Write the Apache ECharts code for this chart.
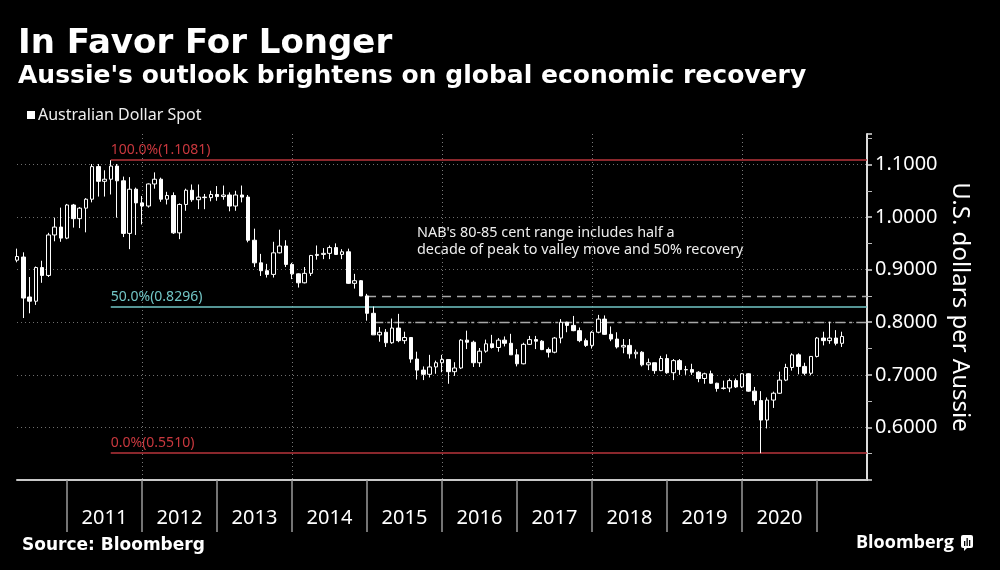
<!DOCTYPE html>
<html>
<head>
<meta charset="utf-8">
<script src="https://cdn.jsdelivr.net/npm/echarts@6/dist/echarts.min.js"></script>
<style>
html,body{margin:0;padding:0;background:#000;}
#chart{width:1000px;height:570px;}
</style>
</head>
<body>
<div id="chart"></div>
<script>
// ---- Data: monthly AUD/USD candles, each [open, close, low, high] ----
var firstYear = 2010, firstMonth = 4;   // April 2010
var lastYear = 2021, lastMonth = 8;     // axis runs to August 2021

var ohlc2010 = [ // Apr..Dec
  [0.918,0.925,0.914,0.940],[0.924,0.846,0.808,0.933],[0.848,0.840,0.817,0.886],
  [0.840,0.904,0.833,0.906],[0.904,0.889,0.875,0.917],[0.889,0.966,0.886,0.970],
  [0.966,0.981,0.954,0.999],[0.981,0.960,0.953,1.018],[0.960,1.023,0.958,1.025]
];
var ohlc2011 = [
  [1.023,0.997,0.980,1.025],[0.997,1.017,0.979,1.019],[1.017,1.034,0.971,1.036],
  [1.034,1.096,1.028,1.101],[1.096,1.068,1.039,1.101],[1.068,1.072,1.039,1.089],
  [1.072,1.097,1.043,1.1081],[1.097,1.069,0.999,1.101],[1.069,0.969,0.962,1.077],
  [0.969,1.053,0.939,1.076],[1.053,1.027,0.966,1.056],[1.027,1.021,0.986,1.040]
];
var ohlc2012 = [
  [1.021,1.063,1.018,1.064],[1.063,1.072,1.054,1.085],[1.072,1.034,1.029,1.075],
  [1.034,1.041,1.024,1.048],[1.041,0.970,0.968,1.047],[0.970,1.024,0.958,1.026],
  [1.024,1.051,1.012,1.054],[1.051,1.033,1.029,1.062],[1.033,1.038,1.015,1.062],
  [1.038,1.037,1.015,1.044],[1.037,1.043,1.030,1.050],[1.043,1.039,1.031,1.059]
];
var ohlc2013 = [
  [1.039,1.042,1.033,1.060],[1.042,1.021,1.011,1.047],[1.021,1.042,1.012,1.050],
  [1.042,1.038,1.028,1.060],[1.038,0.956,0.952,1.042],[0.956,0.913,0.905,0.978],
  [0.913,0.898,0.888,0.930],[0.898,0.891,0.885,0.911],[0.891,0.932,0.885,0.953],
  [0.932,0.945,0.931,0.976],[0.945,0.910,0.905,0.956],[0.910,0.892,0.882,0.913]
];
var ohlc2014 = [
  [0.892,0.875,0.866,0.893],[0.875,0.893,0.874,0.905],[0.893,0.927,0.888,0.928],
  [0.927,0.929,0.919,0.946],[0.929,0.931,0.920,0.941],[0.931,0.942,0.920,0.946],
  [0.942,0.929,0.928,0.950],[0.929,0.934,0.920,0.939],[0.934,0.874,0.873,0.940],
  [0.874,0.879,0.864,0.892],[0.879,0.850,0.850,0.880],[0.850,0.817,0.803,0.854]
];
var ohlc2015 = [
  [0.817,0.776,0.776,0.830],[0.776,0.781,0.763,0.791],[0.781,0.761,0.753,0.787],
  [0.761,0.789,0.759,0.807],[0.789,0.765,0.762,0.816],[0.765,0.771,0.759,0.782],
  [0.771,0.730,0.723,0.771],[0.730,0.709,0.691,0.744],[0.709,0.701,0.690,0.716],
  [0.701,0.715,0.695,0.738],[0.715,0.723,0.702,0.727],[0.723,0.729,0.705,0.738]
];
var ohlc2016 = [
  [0.729,0.706,0.683,0.729],[0.706,0.713,0.698,0.724],[0.713,0.766,0.711,0.768],
  [0.766,0.762,0.749,0.784],[0.762,0.723,0.715,0.765],[0.723,0.745,0.715,0.751],
  [0.745,0.759,0.742,0.767],[0.759,0.752,0.750,0.776],[0.752,0.766,0.744,0.770],
  [0.766,0.760,0.754,0.773],[0.760,0.738,0.738,0.778],[0.738,0.721,0.716,0.749]
];
var ohlc2017 = [
  [0.721,0.758,0.720,0.761],[0.758,0.767,0.757,0.774],[0.767,0.764,0.749,0.774],
  [0.764,0.748,0.747,0.766],[0.748,0.743,0.733,0.752],[0.743,0.770,0.741,0.772],
  [0.770,0.800,0.760,0.806],[0.800,0.794,0.781,0.801],[0.794,0.784,0.783,0.812],
  [0.784,0.765,0.762,0.790],[0.765,0.756,0.753,0.769],[0.756,0.781,0.750,0.783]
];
var ohlc2018 = [
  [0.781,0.806,0.779,0.814],[0.806,0.777,0.776,0.813],[0.777,0.768,0.764,0.792],
  [0.768,0.753,0.750,0.781],[0.753,0.756,0.741,0.768],[0.756,0.740,0.731,0.768],
  [0.740,0.743,0.731,0.748],[0.743,0.719,0.716,0.745],[0.719,0.723,0.709,0.731],
  [0.723,0.708,0.702,0.723],[0.708,0.731,0.707,0.736],[0.731,0.704,0.702,0.739]
];
var ohlc2019 = [
  [0.704,0.727,0.690,0.730],[0.727,0.710,0.700,0.730],[0.710,0.7095,0.700,0.717],
  [0.710,0.705,0.700,0.721],[0.705,0.693,0.686,0.707],[0.693,0.702,0.683,0.704],
  [0.702,0.684,0.683,0.708],[0.684,0.674,0.668,0.685],[0.674,0.675,0.672,0.689],
  [0.675,0.689,0.667,0.693],[0.689,0.677,0.675,0.693],[0.677,0.702,0.675,0.703]
];
var ohlc2020 = [
  [0.702,0.669,0.668,0.703],[0.669,0.651,0.643,0.677],[0.651,0.614,0.551,0.669],
  [0.614,0.652,0.598,0.657],[0.652,0.665,0.637,0.668],[0.665,0.690,0.664,0.706],
  [0.690,0.714,0.688,0.721],[0.714,0.738,0.708,0.741],[0.738,0.716,0.701,0.741],
  [0.716,0.703,0.699,0.723],[0.703,0.735,0.699,0.735],[0.735,0.770,0.733,0.772]
];
var ohlc2021 = [ // Jan..Apr
  [0.770,0.765,0.756,0.782],[0.765,0.770,0.759,0.801],[0.770,0.760,0.756,0.785],
  [0.760,0.773,0.753,0.782]
];

var yearLabels = ['2011','2012','2013','2014','2015','2016','2017','2018','2019','2020'];
var yTicks = [0.6, 0.7, 0.8, 0.9, 1.0, 1.1];
var fibLevels = [
  {name:'100.0%', value:1.1081, from:'2011-07'},
  {name:'50.0%',  value:0.8296, from:'2011-07'},
  {name:'0.0%',   value:0.5510, from:'2011-07'}
];
var nabRange = [
  {value:0.85, from:'2014-12'},
  {value:0.80, from:'2015-01'}
];
var seriesName = 'Australian Dollar Spot';

// ---- Build categories & series ----
var months = [];
(function(){
  var y = firstYear, m = firstMonth;
  while (y < lastYear || (y === lastYear && m <= lastMonth)) {
    months.push(y + '-' + (m < 10 ? '0' + m : '' + m));
    m++; if (m > 12) { m = 1; y++; }
  }
})();
var allOhlc = [].concat(ohlc2010, ohlc2011, ohlc2012, ohlc2013, ohlc2014, ohlc2015,
  ohlc2016, ohlc2017, ohlc2018, ohlc2019, ohlc2020, ohlc2021);

var RED = '#b8343b', RED_TXT = '#c9383e', TEAL = '#72c6c6';

function monthOf(cat){ return cat.slice(5); }
function yearOf(cat){ return cat.slice(0,4); }

var chart = echarts.init(document.getElementById('chart'), null, {renderer:'canvas'});

var fibData = fibLevels.map(function(f){
  var col = f.name === '50.0%' ? TEAL : RED;
  var lcol = f.name === '50.0%' ? TEAL : RED_TXT;
  return [
    {coord:[f.from, f.value], lineStyle:{color:col, width:1.5, type:'solid'},
     label:{show:true, position:'insideStartTop', distance:[0,3], formatter: f.name + '(' + f.value.toFixed(4) + ')',
            color:lcol, fontSize:14, fontFamily:'Noto Sans'}},
    {coord:[months[months.length-1], f.value]}
  ];
});
var nabData = nabRange.map(function(n, i){
  return [
    {coord:[n.from, n.value], lineStyle:{color:'#a8a8a8', width:1.3, type: i === 0 ? [9,6] : [10,4,3,4]}, label:{show:false}},
    {coord:[months[months.length-1], n.value]}
  ];
});

var option = {
  backgroundColor:'#000',
  animation:false,
  grid:{left:17, right:133, top:134, bottom:90, containLabel:false},
  xAxis:{
    type:'category',
    data:months,
    boundaryGap:false,
    axisLine:{show:true, lineStyle:{color:'#c8c8c8', width:2}},
    axisTick:{show:true, length:52, lineStyle:{color:'#9a9a9a', width:1.5},
      interval:function(idx, v){ return monthOf(v) === '12' && +yearOf(v) <= 2020; }},
    axisLabel:{show:true, color:'#fff', fontSize:20, fontFamily:'Noto Sans', margin:28,
      interval:function(idx, v){ return monthOf(v) === '06' && yearLabels.indexOf(yearOf(v)) >= 0; },
      formatter:function(v){ return yearOf(v); }},
    splitLine:{show:true, lineStyle:{color:'#7a7a7a', width:1, type:[1,3]},
      interval:function(idx, v){ return monthOf(v) === '12' && (+yearOf(v)) % 2 === 1 && +yearOf(v) < 2021; }}
  },
  yAxis:{
    type:'value',
    position:'right',
    min:0.5, max:1.158, interval:0.1,
    axisLine:{show:true, lineStyle:{color:'#dcdcdc', width:2}},
    axisTick:{show:true, length:5, lineStyle:{color:'#dcdcdc', width:1.5}},
    minorTick:{show:true, splitNumber:2, length:5, lineStyle:{color:'#bbb'}},
    axisLabel:{color:'#fff', fontSize:20, fontFamily:'Noto Sans', margin:8, showMinLabel:false, showMaxLabel:false,
      formatter:function(v){ return v.toFixed(4); }},
    splitLine:{show:false}
  },
  series:[
    {
      type:'line', data:[], z:1, silent:true, symbol:'none',
      markLine:{silent:true, symbol:['none','none'], animation:false, label:{show:false},
        lineStyle:{color:'#6e6e6e', width:1, type:[1,3]},
        data: yTicks.map(function(v){ return {yAxis:v}; })}
    },
    {
      type:'line', data:[], z:2, silent:true, symbol:'none',
      markLine:{silent:true, symbol:['none','none'], animation:false,
        data: nabData.concat(fibData)}
    },
    {
      name:seriesName,
      type:'candlestick',
      z:5,
      barWidth:4,
      clip:true,
      data:allOhlc,
      itemStyle:{color:'#000', color0:'#fff', borderColor:'#fff', borderColor0:'#fff', borderColorDoji:'#fff', borderWidth:1}
    }
  ],
  graphic:[
    {type:'text', x:18, y:27, style:{text:'In Favor For Longer', fill:'#fff', font:'bold 34px "DejaVu Sans"', verticalAlign:'top'}},
    {type:'text', x:18, y:64, style:{text:"Aussie's outlook brightens on global economic recovery", fill:'#fff', font:'bold 25px "DejaVu Sans"', verticalAlign:'top'}},
    {type:'rect', shape:{x:27, y:111, width:8, height:8}, style:{fill:'#fff'}},
    {type:'text', x:38, y:115, style:{text:seriesName, fill:'#eee', font:'16px "Noto Sans"', verticalAlign:'middle'}},
    {type:'text', x:417, y:233, style:{text:"NAB's 80-85 cent range includes half a", fill:'#eee', font:'14.4px "Noto Sans"', verticalAlign:'middle'}},
    {type:'text', x:417, y:250, style:{text:"decade of peak to valley move and 50% recovery", fill:'#eee', font:'14.4px "Noto Sans"', verticalAlign:'middle'}},
    {type:'text', x:960, y:307, rotation:-Math.PI/2, style:{text:'U.S. dollars per Aussie', fill:'#fff', font:'24px "Noto Sans"', align:'center', verticalAlign:'middle'}},
    {type:'text', x:22, y:546, style:{text:'Source: Bloomberg', fill:'#fff', font:'bold 17px "DejaVu Sans"', verticalAlign:'middle'}},
    {type:'text', x:856, y:543, style:{text:'Bloomberg', fill:'#fff', font:'bold 18px "Open Sans"', verticalAlign:'middle'}},
    {type:'rect', shape:{x:961, y:535, width:12, height:13, r:2}, style:{fill:'#fff'}},
    {type:'polygon', shape:{points:[[964,547],[968,547],[964,551]]}, style:{fill:'#fff'}},
    {type:'rect', shape:{x:964, y:541, width:1.3, height:5}, style:{fill:'#000'}},
    {type:'rect', shape:{x:966.5, y:538, width:1.3, height:8}, style:{fill:'#000'}},
    {type:'rect', shape:{x:969, y:540, width:1.3, height:6}, style:{fill:'#000'}}
  ]
};
chart.setOption(option);
</script>
</body>
</html>
